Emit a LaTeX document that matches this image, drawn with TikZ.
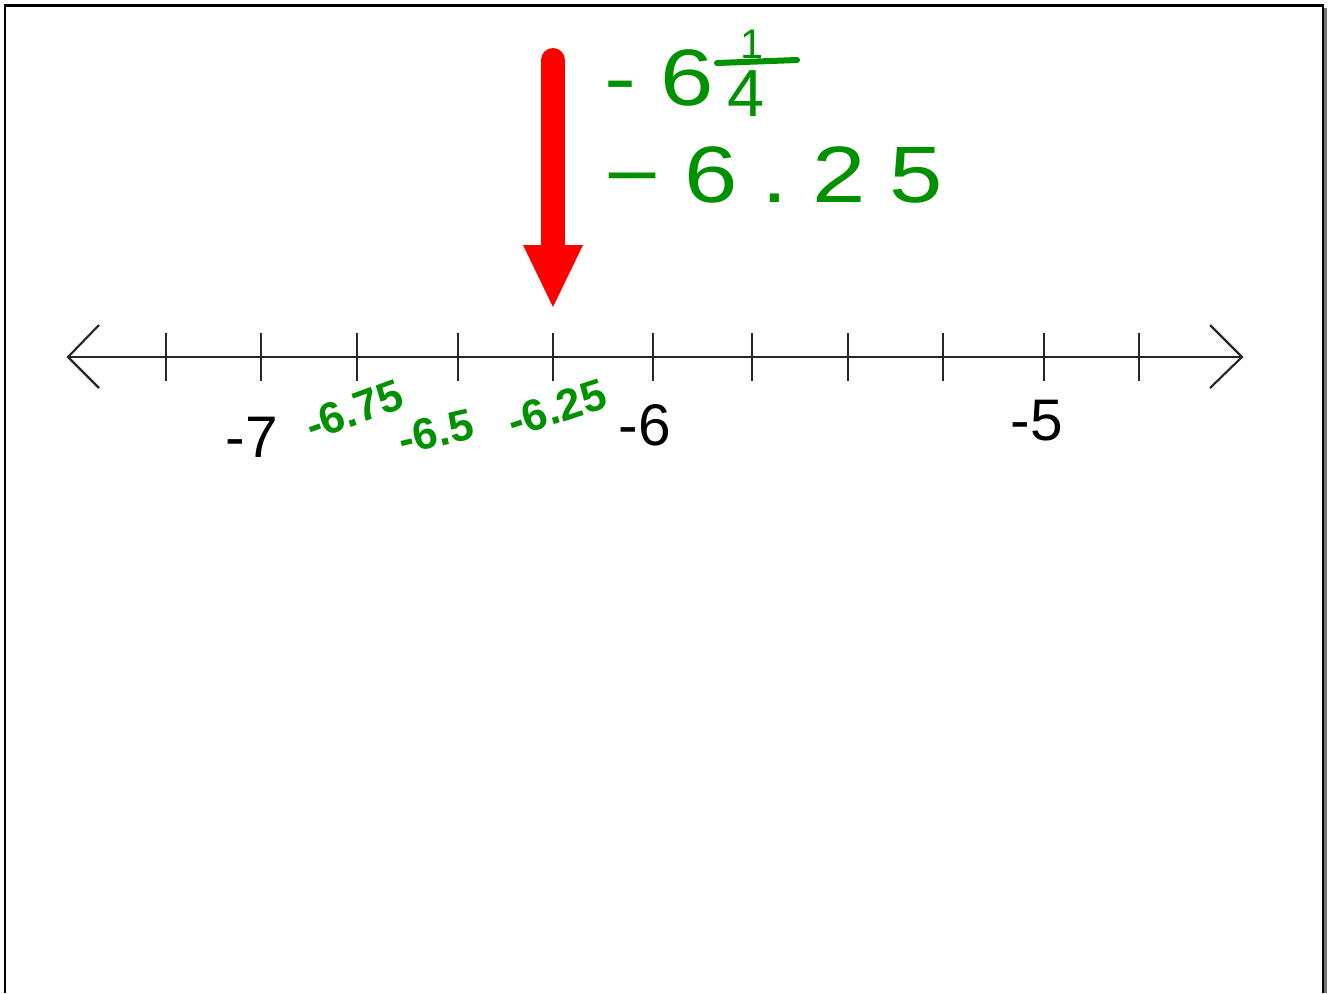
\documentclass[tikz,border=0pt]{standalone}
\usepackage{fontspec}
\setmainfont{Liberation Sans}
\definecolor{handgreen}{RGB}{0,145,0}
\definecolor{arrowred}{RGB}{255,0,0}
\begin{document}
\begin{tikzpicture}[x=0.75pt,y=-0.75pt,
  axis/.style={line width=1.6pt,black!85},
  tickmark/.style={line width=1.8pt,black!85},
  numlabel/.style={font=\fontsize{44}{50}\selectfont,anchor=base,inner sep=0pt},
  hand/.style={text=handgreen,inner sep=0pt},
  handsmall/.style={hand,font=\fontsize{33}{38}\selectfont\bfseries,transform shape},
  handbig/.style={hand,font=\fontsize{60}{70}\selectfont,xscale=1.2,transform shape},
]
\useasboundingbox (0,0) rectangle (1332,993);
\fill[white] (0,0) rectangle (1332,993);
% frame
\draw[black!55,line width=2.4pt] (1325.5,8) -- (1325.5,993);
\draw[line width=1.9pt] (5,993) -- (5,5.5) -- (1323,5.5) -- (1323,993);
% number line
\coordinate (L) at (68,357);
\coordinate (R) at (1242,357);
\draw[axis] (L) -- (R);
\draw[axis] (99,325) -- (L) -- (99,388);
\draw[axis] (1210,325) -- (R) -- (1210,388);
\foreach \x [count=\i] in {166,261,357,458,553,653,752,848,943,1044,1139}
  \draw[tickmark] (\x,333) coordinate (t\i) -- (\x,381);
% integer labels
\node[numlabel] (m7) at (252,457) {-7};
\node[numlabel] (m6) at (645,445) {-6};
\node[numlabel] (m5) at (1037,440) {-5};
% red arrow
\coordinate (arrowtop) at (553,60);
\coordinate (arrowneck) at (553,250);
\coordinate (arrowtip) at (553,307);
\draw[arrowred,line width=18pt,line cap=round] (arrowtop) -- (arrowneck);
\fill[arrowred] (523,245) -- (583,245) -- (arrowtip) -- cycle;
% handwritten green
\node[handbig,anchor=base west] (frac) at (604,105) {\addfontfeature{LetterSpace=25}-6};
\node[hand,anchor=base,font=\fontsize{31}{36}\selectfont] (num) at (752,58) {1};
\coordinate (barl) at (717,63);
\coordinate (barr) at (797,60);
\draw[handgreen,line width=4.5pt,line cap=round] (barl) -- (barr);
\node[hand,anchor=base,font=\fontsize{50}{56}\selectfont] (den) at (746,116) {4};
\node[handbig,anchor=base west] (dec) at (604,202) {\addfontfeature{LetterSpace=25}−6.25};
\node[handsmall,rotate=20] (a) at (354,410) {-6.75};
\node[handsmall,rotate=13] (b) at (436,432) {-6.5};
\node[handsmall,rotate=18] (c) at (557,408) {-6.25};
\end{tikzpicture}
\end{document}
